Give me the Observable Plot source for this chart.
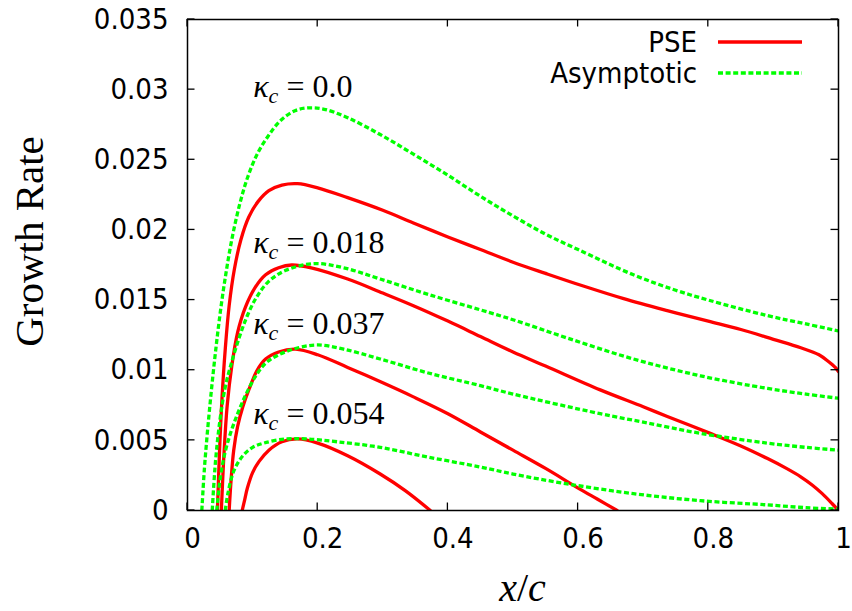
<!DOCTYPE html>
<html>
<head>
<meta charset="utf-8">
<script src="https://cdn.jsdelivr.net/npm/d3@7"></script>
<script src="https://cdn.jsdelivr.net/npm/@observablehq/plot@0.6"></script>
<style>
  body { margin: 0; background: #fff; }
  svg text { white-space: pre; }
</style>
</head>
<body>
<div id="chart"></div>
<script>
// Axis ticks
const xTicks = [0, 0.2, 0.4, 0.6, 0.8, 1];
const yTicks = [0, 0.005, 0.01, 0.015, 0.02, 0.025, 0.03, 0.035];

// Curvature values and where their labels sit
const kappas = ["0.0", "0.018", "0.037", "0.054"];
const kappaLabelX = [0.101, 0.101, 0.101, 0.101];
const kappaLabelY = [0.0302, 0.0191, 0.0133, 0.0069];

// PSE growth rate, [x/c, rate], one array per curvature
const pse0 = [[0.046,0],[0.049,0.004],[0.053,0.0080],[0.058,0.0115],[0.064,0.0146],[0.072,0.0172],[0.082,0.0193],[0.094,0.0209],[0.108,0.0220],[0.125,0.0228],[0.145,0.0232],[0.169,0.0233],[0.20,0.0230],[0.246,0.0223],[0.30,0.0214],[0.347,0.0205],[0.40,0.0195],[0.45,0.0186],[0.50,0.0177],[0.55,0.0169],[0.608,0.0160],[0.67,0.0151],[0.737,0.01425],[0.80,0.0135],[0.85,0.0129],[0.90,0.0122],[0.942,0.0116],[0.97,0.0111],[0.985,0.0106],[0.995,0.0102],[1.0,0.0099]];
const pse1 = [[0.052,0],[0.056,0.004],[0.061,0.0075],[0.068,0.0103],[0.077,0.0127],[0.089,0.0145],[0.104,0.0159],[0.12,0.0168],[0.14,0.0173],[0.16,0.0175],[0.19,0.0173],[0.246,0.0165],[0.30,0.0155],[0.347,0.0146],[0.40,0.0135],[0.45,0.0124],[0.50,0.0113],[0.55,0.0103],[0.634,0.0086],[0.70,0.0074],[0.737,0.0067],[0.803,0.0055],[0.85,0.0046],[0.891,0.0037],[0.92,0.0030],[0.942,0.0024],[0.96,0.0018],[0.975,0.0012],[0.99,0.0005],[1.0,0]];
const pse2 = [[0.064,0],[0.067,0.0022],[0.071,0.0043],[0.077,0.0060],[0.085,0.0074],[0.095,0.0087],[0.107,0.0100],[0.12,0.0108],[0.14,0.0113],[0.166,0.0115],[0.20,0.0111],[0.246,0.0102],[0.30,0.0091],[0.347,0.0081],[0.40,0.0069],[0.45,0.0056],[0.50,0.0043],[0.55,0.0030],[0.60,0.0016],[0.63,0.0008],[0.66,0]];
const pse3 = [[0.084,0],[0.088,0.0008],[0.092,0.0016],[0.10,0.0027],[0.11,0.0035],[0.125,0.0043],[0.145,0.0049],[0.169,0.0051],[0.20,0.0048],[0.246,0.0039],[0.296,0.0026],[0.335,0.0014],[0.373,0]];

// Asymptotic growth rate, [x/c, rate], one array per curvature
const asy0 = [[0.022,0],[0.026,0.003],[0.031,0.0058],[0.037,0.0087],[0.043,0.0113],[0.050,0.0140],[0.058,0.0166],[0.068,0.0193],[0.080,0.0218],[0.092,0.0237],[0.107,0.0254],[0.124,0.0267],[0.143,0.0278],[0.165,0.0285],[0.186,0.0287],[0.21,0.0286],[0.246,0.0280],[0.296,0.0268],[0.347,0.0254],[0.40,0.0239],[0.45,0.0224],[0.50,0.0210],[0.55,0.0197],[0.60,0.0186],[0.685,0.0168],[0.75,0.0157],[0.80,0.0150],[0.89,0.0139],[0.95,0.0133],[1.0,0.0128]];
const asy1 = [[0.038,0],[0.043,0.0035],[0.050,0.0065],[0.058,0.0088],[0.068,0.0106],[0.080,0.0124],[0.092,0.0139],[0.106,0.0152],[0.124,0.0163],[0.15,0.0171],[0.194,0.0176],[0.24,0.0173],[0.296,0.0165],[0.37,0.0154],[0.45,0.0143],[0.50,0.0136],[0.583,0.0123],[0.685,0.0108],[0.788,0.0096],[0.891,0.0087],[0.95,0.0083],[1.0,0.0080]];
const asy2 = [[0.045,0],[0.050,0.0022],[0.057,0.0040],[0.066,0.0055],[0.077,0.0069],[0.09,0.0083],[0.105,0.0096],[0.12,0.0105],[0.14,0.0111],[0.17,0.0116],[0.20,0.0118],[0.24,0.0115],[0.296,0.0108],[0.37,0.0098],[0.45,0.0089],[0.50,0.0083],[0.634,0.0069],[0.70,0.0063],[0.788,0.0055],[0.891,0.0048],[0.95,0.0045],[1.0,0.0043]];
const asy3 = [[0.058,0],[0.062,0.0012],[0.071,0.0028],[0.085,0.0039],[0.10,0.0045],[0.117,0.0048],[0.15,0.0051],[0.184,0.0051],[0.23,0.0049],[0.296,0.0045],[0.37,0.0038],[0.45,0.0031],[0.50,0.0026],[0.583,0.0019],[0.685,0.0012],[0.788,0.0007],[0.891,0.0004],[0.95,0.0002],[1.0,0.0001]];

const RED = "#ff0000";
const GREEN = "#00ff00";
const DASH = "5,2.6";
const SANS = "'DejaVu Sans Condensed', 'DejaVu Sans', sans-serif";
const SERIF = "'Liberation Serif', 'DejaVu Serif', serif";

// Long tables: one row per point, tagged by curvature
const toRows = (series) => series.flatMap((pts, i) => pts.map(([x, y]) => ({x, y, kappa: kappas[i]})));
const pseRows = toRows([pse0, pse1, pse2, pse3]);
const asyRows = toRows([asy0, asy1, asy2, asy3]);
const labelRows = kappas.map((k, i) => ({k, x: kappaLabelX[i], y: kappaLabelY[i]}));

const fmt = (d) => String(+d.toFixed(3));

const chart = Plot.plot({
  width: 852,
  height: 611,
  marginLeft: 187,
  marginRight: 14,
  marginTop: 19,
  marginBottom: 101,
  style: {fontFamily: SANS, fontSize: "29px", fontStretch: "condensed", background: "#fff", color: "#000", overflow: "visible"},
  x: {domain: [0, 1]},
  y: {domain: [0, 0.035]},
  marks: [
    Plot.axisY(yTicks, {tickSize: 0, tickPadding: 19, tickFormat: fmt, fontSize: 29, fill: "#000", label: null}),
    Plot.axisX(xTicks, {tickSize: 0, tickPadding: 17, dx: 5, tickFormat: fmt, fontSize: 29, fill: "#000", label: null}),
    Plot.line(pseRows, {x: "x", y: "y", z: "kappa", stroke: RED, strokeWidth: 3.3, curve: "catmull-rom", clip: true, ariaDescription: "pse"}),
    Plot.line(asyRows, {x: "x", y: "y", z: "kappa", stroke: GREEN, strokeWidth: 3.3, strokeDasharray: DASH, curve: "catmull-rom", clip: true, ariaDescription: "asymptotic"}),
    Plot.text(labelRows, {x: "x", y: "y", text: (d) => `κc = ${d.k}`, textAnchor: "start", lineAnchor: "middle", fontFamily: SERIF, fontSize: 32, fill: "#000"}),
    Plot.frame({stroke: "#000", strokeWidth: 1.5})
  ]
});

const svg = d3.select(chart);
const sx = chart.scale("x"), sy = chart.scale("y");
const X0 = sx.apply(0), X1 = sx.apply(1), Y0 = sy.apply(0), Y1 = sy.apply(0.035);

// Dotted style on every asymptotic curve
svg.selectAll("g[aria-description='asymptotic'], g[aria-description='asymptotic'] path")
  .attr("stroke-dasharray", DASH).attr("stroke-linecap", "butt");

// Inward ticks on all four sides
const ticks = svg.append("g").attr("stroke", "#000").attr("stroke-width", 1.3);
const TL = 7.5;
for (const t of xTicks) {
  const px = sx.apply(t);
  ticks.append("line").attr("x1", px).attr("x2", px).attr("y1", Y0).attr("y2", Y0 - TL);
  ticks.append("line").attr("x1", px).attr("x2", px).attr("y1", Y1).attr("y2", Y1 + TL);
}
for (const t of yTicks) {
  const py = sy.apply(t);
  ticks.append("line").attr("x1", X0).attr("x2", X0 + TL).attr("y1", py).attr("y2", py);
  ticks.append("line").attr("x1", X1).attr("x2", X1 - TL).attr("y1", py).attr("y2", py);
}

// Curvature labels: italic kappa with an italic subscript c
svg.selectAll("text").each(function() {
  const txt = this.textContent;
  const m = txt.match(/^κc = (.*)$/);
  if (!m) return;
  const t = d3.select(this);
  t.text(null);
  t.append("tspan").attr("font-style", "italic").text("κ");
  t.append("tspan").attr("font-style", "italic").attr("font-size", 22).attr("dy", 6).text("c");
  t.append("tspan").attr("dy", -6).text(" = " + m[1]);
});

// Axis titles
svg.append("text")
  .attr("transform", `translate(43, ${(Y0 + Y1) / 2 - 23}) rotate(-90)`)
  .attr("text-anchor", "middle")
  .attr("font-family", SERIF).attr("font-size", 41).attr("font-stretch", "normal")
  .attr("fill", "#000")
  .text("Growth Rate");

const xl = svg.append("text")
  .attr("x", (X0 + X1) / 2 + 10).attr("y", 601)
  .attr("text-anchor", "middle")
  .attr("font-family", SERIF).attr("font-size", 40).attr("font-stretch", "normal")
  .attr("fill", "#000");
xl.append("tspan").attr("font-style", "italic").text("x");
xl.append("tspan").text("/");
xl.append("tspan").attr("font-style", "italic").text("c");

// Key, top right inside the frame
const key = svg.append("g").attr("font-family", SANS).attr("font-size", 29).attr("fill", "#000");
const entries = [{name: "PSE", color: RED, dash: null, dy: 23}, {name: "Asymptotic", color: GREEN, dash: DASH, dy: 54}];
for (const e of entries) {
  key.append("text").attr("x", X1 - 141).attr("y", Y1 + e.dy).attr("dy", "0.35em").attr("text-anchor", "end").text(e.name);
  key.append("line").attr("x1", X1 - 120).attr("x2", X1 - 36).attr("y1", Y1 + e.dy).attr("y2", Y1 + e.dy)
    .attr("stroke", e.color).attr("stroke-width", 3.3).attr("stroke-dasharray", e.dash);
}

document.getElementById("chart").appendChild(chart);
</script>
</body>
</html>
